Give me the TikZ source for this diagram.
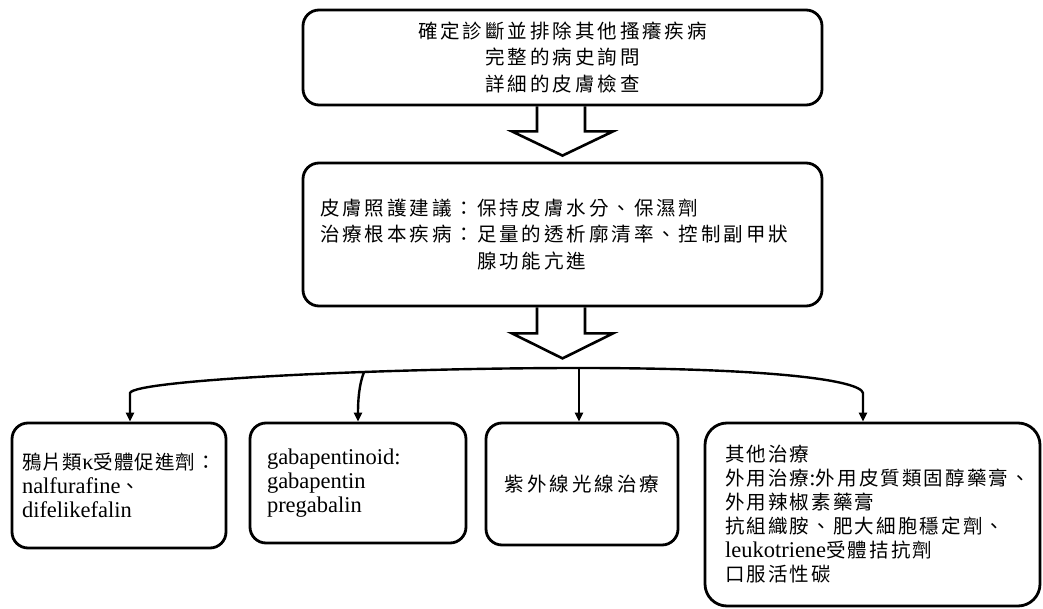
\documentclass[tikz,border=0pt]{standalone}
\usepackage{fontspec}
\setmainfont{Liberation Serif}
\newfontfamily\cjkf[Scale=0.867,LetterSpace=15]{Noto Sans CJK TC}
\newfontfamily\cjkm[Scale=0.867,LetterSpace=11]{Noto Sans CJK TC}
\newfontfamily\cjkn[Scale=0.867,LetterSpace=5]{Noto Sans CJK TC}
\usetikzlibrary{arrows.meta,calc}
\begin{document}
\begin{tikzpicture}[x=1pt,y=-1pt,
  box/.style={draw, line width=2.8pt, rounded corners=16pt, inner ysep=0pt,
    font=\fontsize{22.5}{24}\selectfont},
  conn/.style={line width=2.4pt, -{Triangle[length=9pt,width=8pt]}},
  hollow/.style={line width=2.6pt, line join=miter}]
\useasboundingbox[fill=white] (0,0) rectangle (1043,609);

\node[box, minimum width=519pt, minimum height=95pt, align=center,
  font=\fontsize{22.5}{26.5}\selectfont\cjkf] (diag) at (562.5,57.5)
  {確定診斷並排除其他搔癢疾病\\完整的病史詢問\\詳細的皮膚檢查};

\node[box, minimum width=519pt, minimum height=143pt, text width=485pt,
  inner xsep=17pt, align=left,
  font=\fontsize{22.5}{26.5}\selectfont\cjkf] (care) at (562.5,234.5)
  {皮膚照護建議：保持皮膚水分、保濕劑\\
   治療根本疾病：足量的透析廓清率、控制副甲狀\\
   \hspace*{157pt}腺功能亢進};

\node[box, minimum width=214pt, minimum height=125pt, text width=194pt,
  inner xsep=10pt, align=left] (opioid) at (119,485.5)
  {{\cjkn 鴉片類}κ{\cjkn 受體促進劑：}\\nalfurafine{\cjkf 、}\\difelikefalin};

\node[box, minimum width=216pt, minimum height=120pt, text width=182pt,
  inner xsep=17pt, align=left] (gaba) at (358,483)
  {gabapentinoid:\\gabapentin\\pregabalin};

\node[box, minimum width=192pt, minimum height=122pt, align=center] (uv) at (582,484)
  {{\cjkf 紫外線光線治療}};

\node[box, rounded corners=22pt, minimum width=335pt, minimum height=183pt,
  text width=295pt, inner xsep=20pt, align=left] (other) at (872.5,514.5)
  {{\cjkm 其他治療}\\
   {\cjkm 外用治療}:{\cjkm 外用皮質類固醇藥膏、}\\
   {\cjkm 外用辣椒素藥膏}\\
   {\cjkm 抗組織胺、肥大細胞穩定劑、}\\
   leukotriene{\cjkm 受體拮抗劑}\\
   {\cjkm 口服活性碳}};

% hollow block arrows
\coordinate (tip1) at ($(care.north)+(0,-6)$);
\draw[hollow] ($(diag.south)+(-25.5,0)$) |- ($(diag.south)+(-50.5,25)$)
  -- (tip1) -- ($(diag.south)+(50.5,25)$) -| ($(diag.south)+(22.5,0)$);
\coordinate (tip2) at ($(care.south)+(0,51)$);
\draw[hollow] ($(care.south)+(-25.5,0)$) |- ($(care.south)+(-50.5,26)$)
  -- (tip2) -- ($(care.south)+(50.5,26)$) -| ($(care.south)+(22.5,0)$);

% branching connectors
\coordinate (hub) at (579,368);
\coordinate (lbend) at (130,393);
\coordinate (rbend) at (863,393);
\coordinate (split) at (364,372);
\draw[conn] (hub) .. controls (380,368) and (134,380) .. (lbend) -- (lbend |- opioid.north);
\draw[conn] (split) .. controls (359,385) and (358,400) .. (gaba.north);
\draw[conn] (hub) -- (hub |- uv.north);
\draw[conn] (hub) .. controls (770,368) and (860,380) .. (rbend) -- (rbend |- other.north);
\end{tikzpicture}
\end{document}
